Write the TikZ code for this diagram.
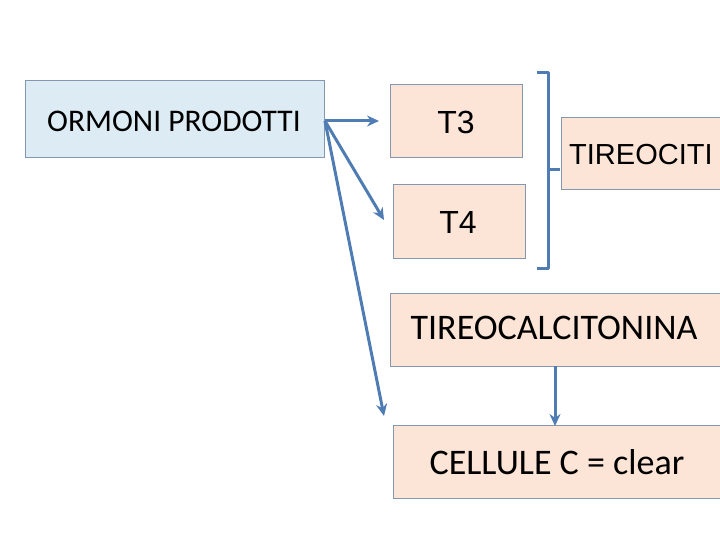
\documentclass[tikz,border=0pt]{standalone}
\usepackage{fontspec}
\setmainfont{Carlito}
\newfontfamily\arialf{Liberation Sans}
\usetikzlibrary{arrows.meta}
\definecolor{peach}{HTML}{FCE4D6}
\definecolor{paleblue}{HTML}{DCEBF4}
\definecolor{boxline}{HTML}{8497B0}
\definecolor{arrowc}{HTML}{4F7CB3}
\tikzset{
  box/.style={draw=boxline, line width=1pt, fill=peach, inner sep=0pt, outer sep=0pt},
  conn/.style={draw=arrowc, line width=3pt, -{Stealth[length=12pt,width=11pt]}},
  brk/.style={draw=arrowc, line width=3pt},
}
\begin{document}
\begin{tikzpicture}[x=1pt,y=-1pt]
\useasboundingbox (0,0) rectangle (720,540);
% boxes
\path[box, fill=paleblue] (25,81) rectangle (324,158);
\node[anchor=west, inner sep=0pt, font=\fontsize{31.5}{34}\selectfont] (orm) at (47,121) {ORMONI PRODOTTI};
\coordinate (src) at (325,121);

\path[box] (390,85) rectangle (522,158);
\node[font=\arialf\fontsize{32}{34}\selectfont] (t3) at (456,122) {T3};
\path[box] (393,185) rectangle (525,258);
\node[font=\arialf\fontsize{32}{34}\selectfont] (t4) at (458,222) {T4};

\path[box] (561,118) rectangle (725,190);
\node[anchor=west, inner sep=0pt, font=\arialf\fontsize{29}{32}\selectfont] (tir) at (569,155) {TIREOCITI};

\path[box] (390,293) rectangle (725,366);
\node[font=\fontsize{36}{40}\selectfont] (calc) at (554,328) {TIREOCALCITONINA};
\coordinate (calcb) at (555,366);

\path[box] (393,425) rectangle (725,498);
\node[font=\fontsize{36}{40}\selectfont] (cell) at (557,462) {CELLULE C = clear};
\coordinate (cellt) at (555,426);

% arrows
\coordinate (e1) at (379,121);
\coordinate (e2) at (384,220);
\coordinate (e3) at (384,416);
\draw[conn] (src) -- (e1);
\draw[conn] (src) -- (e2);
\draw[conn] (src) -- (e3);
\draw[conn] (calcb) -- (cellt);

% bracket
\coordinate (bt) at (537,73);
\coordinate (bb) at (537,268);
\coordinate (bm) at (560,170);
\draw[brk, line join=round] (bt) -- (548,73) -- (548,268) -- (bb);
\draw[brk] (548,170) -- (bm);
\end{tikzpicture}
\end{document}
